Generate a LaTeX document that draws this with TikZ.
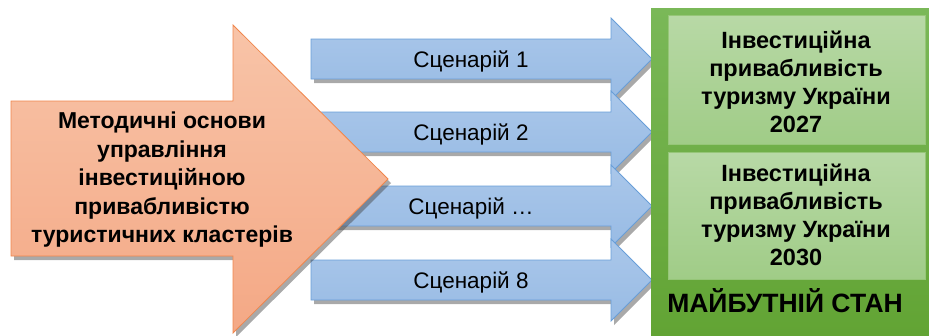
\documentclass[tikz,border=0pt]{standalone}
\usepackage{fontspec}
\setmainfont{Liberation Sans}
\usetikzlibrary{shadows}
\definecolor{orangetop}{RGB}{248,196,168}
\definecolor{orangebot}{RGB}{244,168,133}
\definecolor{orangeedge}{RGB}{240,134,76}
\definecolor{bluetop}{RGB}{170,199,234}
\definecolor{bluebot}{RGB}{152,187,228}
\definecolor{blueedge}{RGB}{104,158,216}
\definecolor{greentop}{RGB}{122,184,88}
\definecolor{greenbot}{RGB}{98,164,52}
\definecolor{boxtop}{RGB}{184,217,166}
\definecolor{boxbot}{RGB}{160,204,135}
\definecolor{boxedge}{RGB}{150,198,120}

\begin{document}
\begin{tikzpicture}[x=1pt,y=-1pt,
  shadowed/.style={drop shadow={shadow xshift=3pt,shadow yshift=-4pt,opacity=0.45,fill=black!75}},
  bluearrow/.style={shadowed,draw=blueedge,line width=0.8pt,top color=bluetop,bottom color=bluebot},
  bigarrow/.style={shadowed,draw=orangeedge,line width=0.8pt,top color=orangetop,bottom color=orangebot},
  scenlabel/.style={anchor=base,font=\fontsize{22.5}{27}\selectfont},
  boldlabel/.style={align=center,font=\bfseries\fontsize{23.5}{28}\selectfont}]
\useasboundingbox (0,0) rectangle (929,335);

% scenarios
\foreach \yc/\name/\lbl in {59/scen1/1,132/scen2/2,206/scen3/…,280/scen4/8} {
  \path[bluearrow] (311,\yc-20) -- (611,\yc-20) -- (611,\yc-41) -- (652,\yc)
    -- (611,\yc+41) -- (611,\yc+20) -- (311,\yc+20) -- cycle;
  \node[scenlabel] (\name) at (471,\yc+8) {Сценарій \lbl};
}

% methodology arrow
\path[bigarrow] (11,101) -- (233,101) -- (233,25) -- (388,179) -- (233,333)
  -- (233,256) -- (11,256) -- cycle;
\node[boldlabel,font=\bfseries\fontsize{23}{28.5}\selectfont] (method) at (162,180) {Методичні основи\\управління\\інвестиційною\\привабливістю\\туристичних кластерів};

% future state
\fill[top color=greentop,bottom color=greenbot] (651,8) rectangle (929,335);
\path[draw=boxedge,top color=boxtop,bottom color=boxbot] (668,15) rectangle (925,144);
\path[draw=boxedge,top color=boxtop,bottom color=boxbot] (668,152) rectangle (925,279);
\node[boldlabel] (year1) at (796,82) {Інвестиційна\\привабливість\\туризму України\\2027};
\node[boldlabel] (year2) at (796,215) {Інвестиційна\\привабливість\\туризму України\\2030};
\node[anchor=base,font=\bfseries\fontsize{26.5}{31}\selectfont] (future) at (785,312) {МАЙБУТНІЙ СТАН};
\end{tikzpicture}
\end{document}
